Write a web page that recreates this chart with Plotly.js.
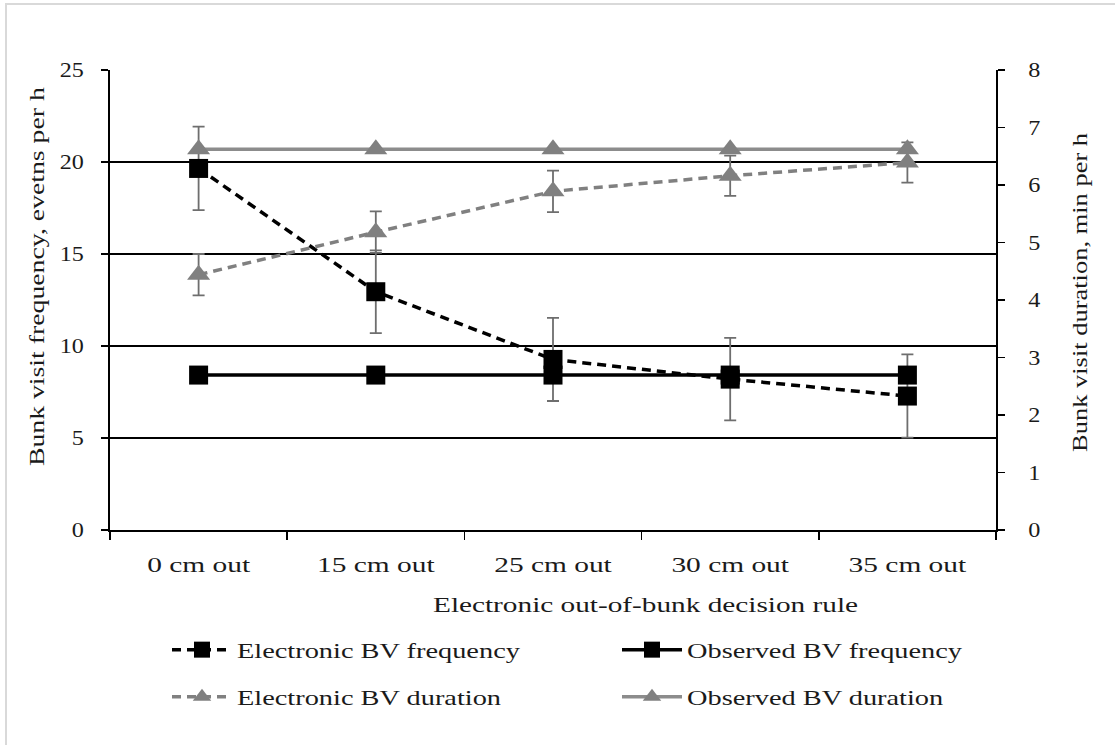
<!DOCTYPE html>
<html>
<head>
<meta charset="utf-8">
<script src="https://cdn.plot.ly/plotly-3.0.1.min.js"></script>
<style>html,body{margin:0;padding:0;background:#fff;}#chart{width:1115px;height:745px;}</style>
</head>
<body>
<div id="chart"></div>
<script>
const categories = ["0 cm out", "15 cm out", "25 cm out", "30 cm out", "35 cm out"];
const electronicFreq = [19.65, 12.95, 9.27, 8.2, 7.28];
const electronicFreqErr = [2.27, 2.25, 2.26, 2.24, 2.26];
const observedFreq = [8.42, 8.42, 8.42, 8.42, 8.42];
const electronicDur = [4.44, 5.18, 5.89, 6.16, 6.39];
const electronicDurErr = [0.36, 0.36, 0.36, 0.35, 0.35];
const observedDur = [6.62, 6.62, 6.62, 6.62, 6.62];
const xTitle = 'Electronic out-of-bunk decision rule';
const yTitle = 'Bunk visit frequency, evetns per h';
const y2Title = 'Bunk visit duration, min per h';

const FONT = "'Liberation Serif', 'Times New Roman', serif";
const FS = 21;
const TXT = '#1a1a1a';
const errStyle = {type: 'data', visible: true, thickness: 1.8, width: 6, color: '#6e6e6e'};

const traces = [
  {
    name: "Electronic BV frequency", x: categories, y: electronicFreq, yaxis: 'y', type: 'scatter', mode: 'lines+markers',
    line: {color: '#000', width: 3.5, dash: '9px,6px'},
    marker: {symbol: 'square', size: 19, color: '#000'},
    error_y: Object.assign({array: electronicFreqErr}, errStyle),
    legend: 'legend'
  },
  {
    name: "Observed BV frequency", x: categories, y: observedFreq, yaxis: 'y', type: 'scatter', mode: 'lines+markers',
    line: {color: '#000', width: 3.5},
    marker: {symbol: 'square', size: 19, color: '#000'},
    legend: 'legend2'
  },
  {
    name: "Electronic BV duration", x: categories, y: electronicDur, yaxis: 'y2', type: 'scatter', mode: 'lines+markers',
    line: {color: '#808080', width: 3.5, dash: '9px,6px'},
    marker: {symbol: 'triangle-up', size: 20, color: '#808080'},
    error_y: Object.assign({array: electronicDurErr}, errStyle),
    legend: 'legend3'
  },
  {
    name: "Observed BV duration", x: categories, y: observedDur, yaxis: 'y2', type: 'scatter', mode: 'lines+markers',
    line: {color: '#8c8c8c', width: 3.5},
    marker: {symbol: 'triangle-up', size: 20, color: '#808080'},
    legend: 'legend4'
  }
];

function legendAt(px, py) {
  return {
    orientation: 'h', xref: 'paper', yref: 'paper', xanchor: 'left', yanchor: 'middle',
    x: (px - 110) / 886, y: (530 - py) / 460,
    font: {family: FONT, size: FS, color: TXT},
    itemwidth: 60, bgcolor: 'rgba(0,0,0,0)', borderwidth: 0
  };
}

function titleAt(text, px, py, angle) {
  return {
    text: text, showarrow: false, xref: 'paper', yref: 'paper',
    x: (px - 110) / 886, y: (530 - py) / 460, xanchor: 'center', yanchor: 'middle',
    textangle: angle, font: {family: FONT, size: FS, color: TXT}
  };
}

const layout = {
  width: 1115, height: 745,
  margin: {l: 110, r: 119, t: 70, b: 215},
  paper_bgcolor: '#fff', plot_bgcolor: '#fff',
  font: {family: FONT, size: FS, color: TXT},
  showlegend: true,
  xaxis: {
    type: 'category', categoryorder: 'array', categoryarray: categories,
    range: [-0.5, categories.length - 0.5],
    showline: true, linecolor: '#000', linewidth: 2,
    ticks: 'outside', tickson: 'boundaries', ticklen: 8, tickcolor: '#000', tickwidth: 1.5,
    ticklabelstandoff: 15,
    showgrid: false, zeroline: false,
    tickfont: {family: FONT, size: FS, color: TXT}
  },
  yaxis: {
    range: [0, 25], dtick: 5, tick0: 0,
    showline: true, linecolor: '#000', linewidth: 2,
    ticks: 'outside', ticklen: 7, tickcolor: '#000', tickwidth: 1.5,
    ticklabelstandoff: 13,
    showgrid: true, gridcolor: '#000', gridwidth: 1.6, zeroline: false,
    tickfont: {family: FONT, size: FS, color: TXT}
  },
  yaxis2: {
    overlaying: 'y', side: 'right', range: [0, 8], dtick: 1, tick0: 0,
    showline: true, linecolor: '#000', linewidth: 2,
    ticks: 'outside', ticklen: 7, tickcolor: '#000', tickwidth: 1.5,
    ticklabelstandoff: 19,
    showgrid: false, zeroline: false,
    tickfont: {family: FONT, size: FS, color: TXT}
  },
  annotations: [
    titleAt(xTitle, 645, 605, 0),
    titleAt(yTitle, 37, 277, -90),
    titleAt(y2Title, 1080, 292, -90)
  ],
  legend: legendAt(167, 650),
  legend2: legendAt(617, 650),
  legend3: legendAt(167, 697),
  legend4: legendAt(617, 697),
  shapes: [
    {type: 'rect', xref: 'paper', yref: 'paper',
     x0: (6 - 110) / 886, x1: (1130 - 110) / 886, y0: (530 - 760) / 460, y1: (530 - 4) / 460,
     line: {color: '#d9d9d9', width: 2}, fillcolor: 'rgba(0,0,0,0)', layer: 'below'}
  ]
};

// The reference text is wider than Times at this size: stretch glyphs along the baseline.
const targetLengths = {};
targetLengths[xTitle] = 425;
targetLengths[yTitle] = 379;
targetLengths[y2Title] = 319;

function widenText(gd) {
  gd.querySelectorAll('svg text').forEach(function (t) {
    if (t.querySelector('tspan')) return;
    const w = t.getComputedTextLength();
    if (!(w > 0)) return;
    let len;
    const s = t.textContent;
    if (targetLengths[s]) len = targetLengths[s];
    else if (t.closest('.ytick') || t.closest('.y2tick')) len = w * 1.15;
    else if (t.closest('.xtick')) len = w * 1.4;
    else len = w * 1.35;
    t.setAttribute('textLength', len.toFixed(1));
    t.setAttribute('lengthAdjust', 'spacingAndGlyphs');
  });
  gd.querySelectorAll('.infolayer [clip-path]').forEach(function (e) { e.removeAttribute('clip-path'); });
}

Plotly.newPlot('chart', traces, layout, {displayModeBar: false, staticPlot: true}).then(widenText);
</script>
</body>
</html>
